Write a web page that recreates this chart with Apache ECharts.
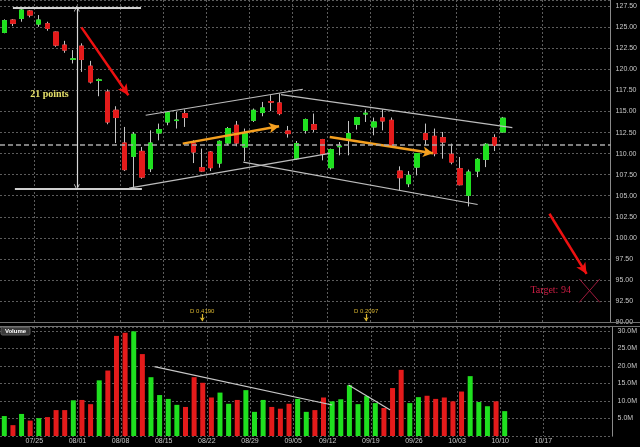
<!DOCTYPE html>
<html><head><meta charset="utf-8">
<script src="https://cdn.jsdelivr.net/npm/echarts@6/dist/echarts.min.js"></script>
<style>html,body{margin:0;padding:0;background:#000}#c{width:640px;height:447px}</style>
</head><body><div id="c"></div>
<script>
// ---- data ----
const dates = ['07/19','07/20','07/21','07/22','07/25','07/26','07/27','07/28','07/29',
  '08/01','08/02','08/03','08/04','08/05','08/08','08/09','08/10','08/11','08/12',
  '08/15','08/16','08/17','08/18','08/19','08/22','08/23','08/24','08/25','08/26',
  '08/29','08/30','08/31','09/01','09/02','09/06','09/07','09/08','09/09',
  '09/12','09/13','09/14','09/15','09/16','09/19','09/20','09/21','09/22','09/23',
  '09/26','09/27','09/28','09/29','09/30','10/03','10/04','10/05','10/06','10/07','10/10'];
const futureDates = ['10/11','10/12','10/13','10/14','10/17','10/18','10/19','10/20','10/21','10/24','10/25','10/26'];
const opens  = [124.40,125.87,126.07,126.94,125.39,125.43,124.44,122.89,121.20,122.77,120.39,118.69,117.33,115.15,111.26,109.68,110.27,108.21,112.45,113.76,113.93,114.76,111.26,108.33,110.19,108.88,111.26,113.37,110.79,113.96,114.88,116.19,116.02,112.69,109.40,112.77,113.45,111.67,108.33,110.82,111.58,113.49,114.70,113.17,114.24,113.96,107.93,106.43,108.40,112.38,112.06,111.90,109.92,108.21,105.04,107.93,109.32,111.90,112.57];
const closes = [125.80,125.48,127.06,126.46,125.87,124.88,122.89,122.30,121.26,121.19,118.52,118.76,113.76,114.29,108.10,112.30,107.21,111.26,112.86,114.88,113.99,114.29,110.19,107.93,108.33,111.46,112.98,111.26,112.38,115.15,115.43,116.11,114.76,112.38,111.19,114.05,112.89,109.92,110.48,110.90,112.38,114.29,114.80,113.76,113.88,110.99,107.14,107.42,110.00,111.67,110.00,111.38,109.00,106.31,107.81,109.32,111.11,110.99,114.21];
const lows   = [124.30,125.15,125.67,126.19,125.07,124.60,122.69,121.98,120.71,119.71,118.33,116.82,113.49,111.26,107.93,105.83,107.02,107.81,111.58,113.37,112.98,113.17,108.88,107.81,107.93,108.33,110.99,110.87,109.12,113.76,114.44,115.07,114.56,111.90,109.29,112.38,112.57,109.20,108.10,109.80,109.80,112.86,113.76,112.18,112.77,110.90,105.63,106.02,107.42,110.99,109.68,109.40,108.73,106.23,103.73,107.21,108.40,110.31,112.50];
const highs  = [125.95,125.99,127.38,127.06,126.46,125.67,124.50,123.40,122.30,123.10,121.02,118.93,117.62,115.63,113.17,112.57,110.79,112.77,113.57,114.95,114.95,115.24,111.58,110.60,110.31,111.58,113.17,113.88,112.98,115.36,116.14,116.94,117.14,113.29,111.50,114.17,114.76,111.75,110.60,111.38,113.88,114.36,115.24,114.29,115.24,114.29,108.49,107.93,110.07,113.57,112.98,112.57,111.19,109.60,108.10,109.48,111.26,112.30,114.36];
const volumes = [5.7,3.1,6.3,4.4,5.1,5.4,7.4,7.4,10.2,10.3,9.1,15.9,18.7,28.6,29.5,29.9,23.4,16.8,11.7,10.6,8.9,8.3,16.8,15.2,11.0,12.4,9.2,10.3,13.1,6.9,10.3,8.3,7.8,9.2,10.6,6.9,7.4,11.0,9.9,10.5,14.5,9.1,11.4,9.4,8.0,13.7,18.9,9.4,11.1,11.5,10.6,11.0,9.9,12.7,17.1,9.7,8.5,9.9,7.1];
const weekStarts = ['07/25','08/01','08/08','08/15','08/22','08/29','09/06','09/12','09/19','09/26','10/03','10/10','10/17'];
const weekLabels = ['07/25','08/01','08/08','08/15','08/22','08/29','09/05','09/12','09/19','09/26','10/03','10/10','10/17'];
const lastPrice = 114.21;
const refPrice = 111.1;
// annotations in [day index, price] / [day index, volume in M]
const whiteLines = [[[1.0,127.38],[15.9,127.38]],[[1.23,105.85],[16.0,105.85]]];
const channelLines = [[[16.44,114.56],[34.72,117.65]],[[14.51,105.9],[37.84,110.04]],[[32.18,117.02],[59.08,113.1]],[[27.79,109.0],[55.04,103.96]]];
const measureArrow = [[8.43,127.25],[8.43,106.0]];
const redArrows = [[[8.97,125.0],[14.43,116.94]],[[63.39,102.86],[67.71,95.71]]];
const orangeArrows = [[[20.75,111.19],[31.95,113.25]],[[37.84,111.98],[49.85,110.04]]];
const crossLines = [[[66.86,95.12],[69.25,92.33]],[[69.25,95.12],[66.86,92.33]]];
const volumeLines = [[[17.4,19.8],[38.0,8.86]],[[39.9,14.57],[44.73,7.43]]];
const pointsLabel = {text:'21 points', at:[5.25,117.0]};
const targetLabel = {text:'Target: 94', at:[63.53,93.73]};
const dividends = [{text:'D 0.4190', day:23.02},{text:'D 0.2097', day:42.07}];

// ---- build ----
const cats = dates.concat(futureDates);
const UP = '#1fe01f', DOWN = '#e41b1b';
const wickData = dates.map((d,i)=>[opens[i],closes[i],lows[i],highs[i]]);
const bodyData = dates.map((d,i)=>[opens[i],closes[i],Math.min(opens[i],closes[i]),Math.max(opens[i],closes[i])]);
const volData = volumes.map((v,i)=>({value:v,itemStyle:{color: closes[i]>=opens[i]?UP:DOWN}}));
const isWeek = (idx,val)=>weekStarts.indexOf(val)>=0;
const gridLine = {show:true,interval:isWeek,lineStyle:{color:'#5c5c5c',type:[2,2],width:1}};
const hGrid = {show:true,lineStyle:{color:'#5c5c5c',type:[2,2],width:1}};
const seg = (pts,style,s0,s1,sz)=>[{coord:pts[0],symbol:s0||'none',symbolSize:sz||8,lineStyle:Object.assign({type:'solid'},style)},{coord:pts[1],symbol:s1||'none',symbolSize:sz||8}];
const chevron = 'path://M0,10 L5,0 L10,10 L8.6,10 L5,3 L1.4,10 Z';
const lbl = (t,at,style)=>({coord:at,value:t,symbol:'circle',symbolSize:1,itemStyle:{color:'rgba(0,0,0,0)'},
  label:Object.assign({show:true,position:'inside',formatter:t},style)});

const priceMarks = [];
whiteLines.forEach(p=>priceMarks.push(seg(p,{color:'#cfcfcf',width:2})));
channelLines.forEach(p=>priceMarks.push(seg(p,{color:'#bdbdbd',width:1.2})));
priceMarks.push([{coord:measureArrow[0],symbol:chevron,symbolSize:[6,6],lineStyle:{type:'solid',color:'#d8d8d8',width:1.2}},{coord:measureArrow[1],symbol:chevron,symbolSize:[6,6]}]);
redArrows.forEach(p=>priceMarks.push(seg(p,{color:'#ee1111',width:2.5},'none','arrow',[8,11])));
orangeArrows.forEach(p=>priceMarks.push(seg(p,{color:'#f5a020',width:2.5},'none','arrow',[8,10])));
crossLines.forEach(p=>priceMarks.push(seg(p,{color:'#a01a3c',width:1})));
dividends.forEach(d=>priceMarks.push(seg([[d.day,90.95],[d.day,90.1]],{color:'#d8b430',width:1.2},'none','arrow',[4,4])));

const yLine = {show:true,onZero:false,lineStyle:{color:'#8a8a8a'}};
const option = {
  backgroundColor:'#000',
  animation:false,
  grid:[{left:0,right:25,top:0,height:322},{left:0,right:25,top:327,height:109}],
  xAxis:[
    {type:'category',gridIndex:0,data:cats,boundaryGap:true,axisLine:{show:false},axisTick:{show:false},axisLabel:{show:false},splitLine:gridLine},
    {type:'category',gridIndex:1,data:cats,boundaryGap:true,axisLine:{show:false},axisTick:{show:false},splitLine:gridLine,
      axisLabel:{show:true,interval:isWeek,formatter:v=>{const k=weekStarts.indexOf(v);return k>=0?weekLabels[k]:'';},
        color:'#c8c8c8',fontSize:7,fontFamily:'Liberation Sans',margin:2,padding:[0,9,0,0]}},
    {type:'value',gridIndex:0,min:-0.5,max:70.5,show:false,axisLine:{show:false,onZero:false},splitLine:{show:false}},
    {type:'value',gridIndex:1,min:-0.5,max:70.5,show:false,axisLine:{show:false,onZero:false},splitLine:{show:false}}
  ],
  yAxis:[
    {type:'value',gridIndex:0,position:'right',min:90,max:128.25,interval:2.5,
      axisLine:yLine,axisTick:{show:false},splitLine:hGrid,
      axisLabel:{color:'#c8c8c8',fontSize:7,fontFamily:'Liberation Sans',margin:5,
        formatter:v=>Math.abs(v/2.5-Math.round(v/2.5))<1e-6?v.toFixed(2):''}},
    {type:'value',gridIndex:1,position:'right',min:0,max:31.14,interval:5,
      axisLine:yLine,axisTick:{show:false},splitLine:hGrid,
      axisLabel:{color:'#c8c8c8',fontSize:7,fontFamily:'Liberation Sans',margin:5,
        formatter:v=>(v>0&&Math.abs(v/5-Math.round(v/5))<1e-6)?v.toFixed(1)+'M':''}}
  ],
  graphic:[
    {type:'line',shape:{x1:0,y1:322.5,x2:640,y2:322.5},style:{stroke:'#707070',lineWidth:1},z:100},
    {type:'line',shape:{x1:0,y1:326.5,x2:640,y2:326.5},style:{stroke:'#707070',lineWidth:1},z:100},
    {type:'rect',shape:{x:1,y:327.5,width:29,height:7.5,r:1.5},style:{fill:'#3a3a3a',stroke:'#5a5a5a'},z:100},
    {type:'text',x:15.5,y:331.4,style:{text:'Volume',fill:'#ffffff',font:'bold 6px Liberation Sans',align:'center',verticalAlign:'middle'},z:101}
  ],
  series:[
    {type:'candlestick',name:'wick',xAxisIndex:0,yAxisIndex:0,data:wickData,barWidth:5,
      itemStyle:{color:'#c4c4c4',color0:'#c4c4c4',borderColor:'#c4c4c4',borderColor0:'#c4c4c4',borderWidth:1}},
    {type:'candlestick',name:'body',xAxisIndex:0,yAxisIndex:0,data:bodyData,barWidth:5,
      itemStyle:{color:UP,color0:DOWN,borderColor:UP,borderColor0:DOWN,borderWidth:1}},
    {type:'bar',name:'Volume',xAxisIndex:1,yAxisIndex:1,data:volData,barWidth:5},
    {type:'line',name:'notes',xAxisIndex:2,yAxisIndex:0,data:[],z:10,silent:true,
      markLine:{silent:true,symbol:['none','none'],label:{show:false},animation:false,data:priceMarks.concat([
        [{coord:[-0.5,refPrice],symbol:'none',lineStyle:{color:'#a8a8a8',width:1.5,type:[5,3]}},{coord:[70.5,refPrice],symbol:'none'}],
        {yAxis:lastPrice,symbol:'none',lineStyle:{opacity:0},label:{show:true,position:'end',formatter:lastPrice.toFixed(2),
          backgroundColor:'#f2ee00',color:'#222',fontSize:7,fontFamily:'Liberation Sans',padding:[1,2],distance:1}}
      ])},
      markPoint:{silent:true,animation:false,data:[
        lbl(pointsLabel.text,pointsLabel.at,{color:'#e6e06a',fontSize:10,fontWeight:'bold',fontFamily:'Liberation Serif'}),
        lbl(targetLabel.text,targetLabel.at,{color:'#cc1e44',fontSize:10,fontFamily:'Liberation Serif'})
      ].concat(dividends.map(d=>lbl(d.text,[d.day,91.25],{color:'#d8b430',fontSize:6,fontFamily:'Liberation Sans'})))}
    },
    {type:'line',name:'volnotes',xAxisIndex:3,yAxisIndex:1,data:[],silent:true,
      markLine:{silent:true,symbol:['none','none'],label:{show:false},animation:false,
        data:volumeLines.map(p=>seg(p,{color:'#c8c8c8',width:1.2}))}}
  ]
};
echarts.init(document.getElementById('c')).setOption(option);
</script></body></html>
